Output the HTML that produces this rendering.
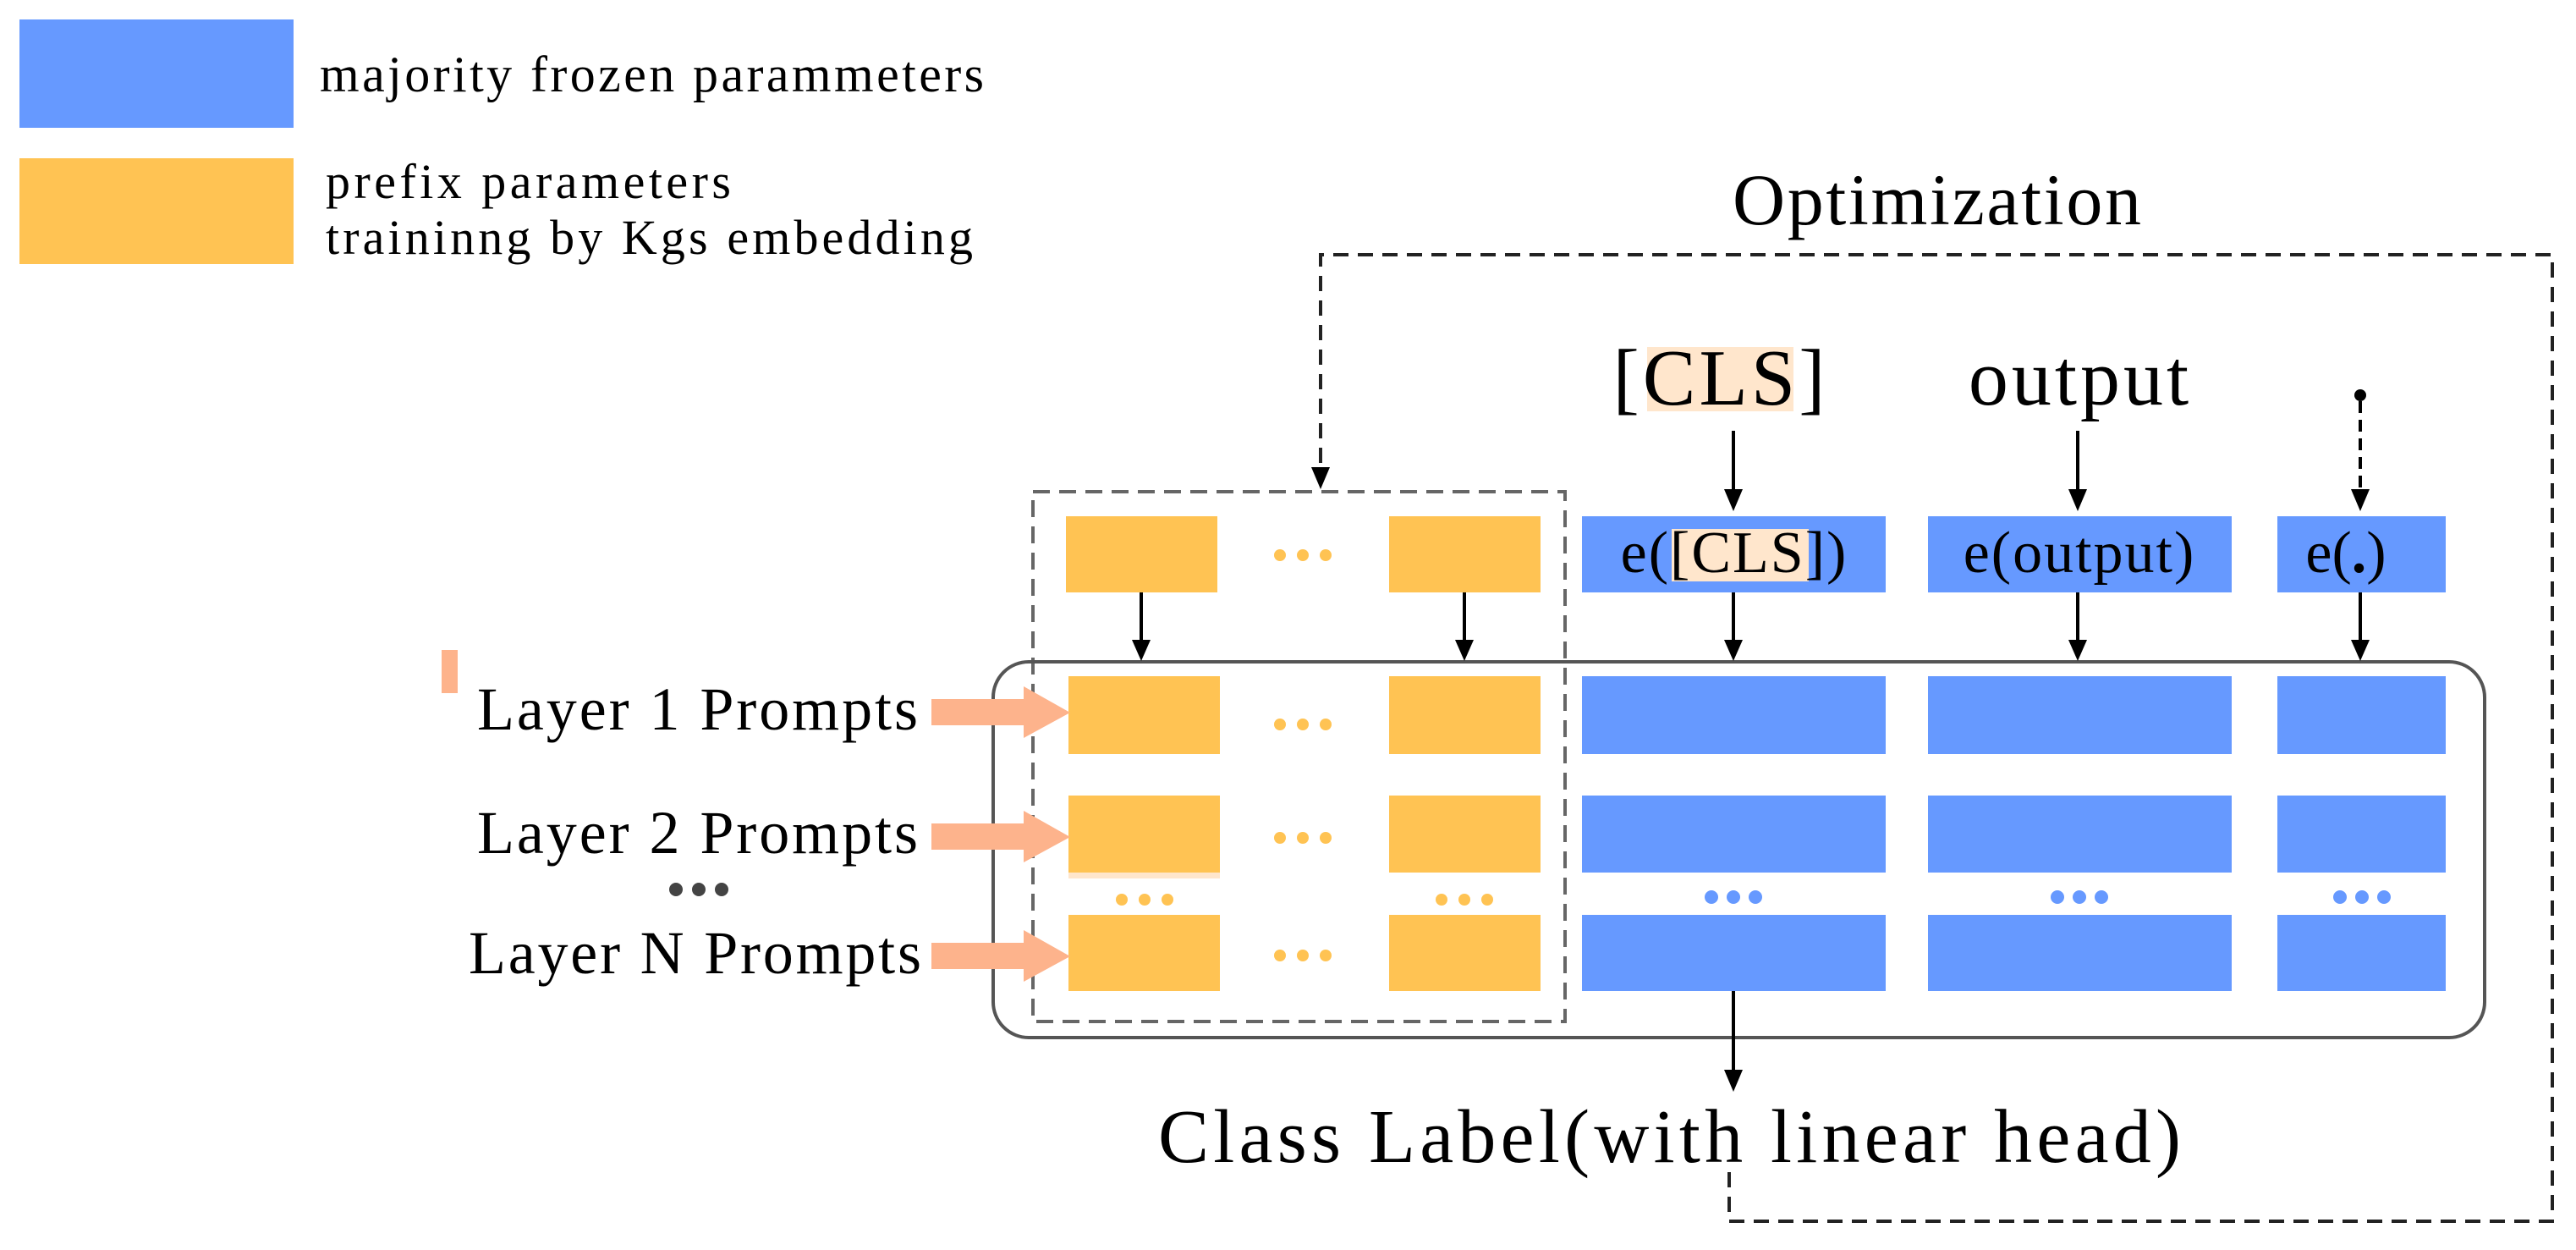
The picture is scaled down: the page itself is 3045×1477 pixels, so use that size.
<!DOCTYPE html>
<html><head><meta charset="utf-8"><style>
html,body{margin:0;padding:0;background:#fff;}
svg{display:block;}
text{font-family:"Liberation Serif",serif;fill:#000;}
</style></head><body>
<svg width="3045" height="1477" viewBox="0 0 3045 1477" xmlns="http://www.w3.org/2000/svg">
<!-- legend -->
<rect x="23" y="23" width="324" height="128" fill="#6699ff"/>
<text x="378" y="108" font-size="60" textLength="785" lengthAdjust="spacing">majority frozen parammeters</text>
<rect x="23" y="187" width="324" height="125" fill="#ffc353"/>
<text x="385" y="234" font-size="58" textLength="479" lengthAdjust="spacing">prefix parameters</text>
<text x="385" y="300" font-size="58" textLength="765" lengthAdjust="spacing">traininng by Kgs embedding</text>

<!-- Optimization -->
<text x="2048" y="265" font-size="86" textLength="483" lengthAdjust="spacing">Optimization</text>
<polyline points="2044,1385 2044,1443 3017,1443 3017,301 1561,301 1561,560" fill="none" stroke="#222" stroke-width="4" stroke-dasharray="18,11"/>
<polygon points="1550,552 1572,552 1561,578" fill="#000"/>

<!-- left dashed box -->
<rect x="1221" y="581" width="629" height="626" fill="none" stroke="#666" stroke-width="4" stroke-dasharray="20,11"/>

<!-- rounded main box -->
<rect x="1174" y="782" width="1763" height="444" rx="42" fill="none" stroke="#555" stroke-width="4"/>

<!-- top orange -->
<rect x="1260" y="610" width="179" height="90" fill="#ffc353"/>
<rect x="1642" y="610" width="179" height="90" fill="#ffc353"/>
<g fill="#ffc353"><circle cx="1513" cy="656" r="7"/><circle cx="1540" cy="656" r="7"/><circle cx="1567" cy="656" r="7"/></g>

<g stroke="#000" stroke-width="4">
<line x1="1349" y1="700" x2="1349" y2="760"/>
<line x1="1731" y1="700" x2="1731" y2="760"/>
<line x1="2049" y1="509" x2="2049" y2="580"/>
<line x1="2456" y1="509" x2="2456" y2="580"/>
<line x1="2790" y1="474" x2="2790" y2="580" stroke-dasharray="14,8"/>
<line x1="2049" y1="700" x2="2049" y2="760"/>
<line x1="2456" y1="700" x2="2456" y2="760"/>
<line x1="2790" y1="700" x2="2790" y2="760"/>
<line x1="2049" y1="1171" x2="2049" y2="1268"/>
</g>
<g fill="#000">
<polygon points="1338,756 1360,756 1349,781"/>
<polygon points="1720,756 1742,756 1731,781"/>
<polygon points="2038,578 2060,578 2049,604"/>
<polygon points="2445,578 2467,578 2456,604"/>
<polygon points="2779,578 2801,578 2790,604"/>
<polygon points="2038,756 2060,756 2049,781"/>
<polygon points="2445,756 2467,756 2456,781"/>
<polygon points="2779,756 2801,756 2790,781"/>
<polygon points="2038,1264 2060,1264 2049,1290"/>
<circle cx="2790" cy="467" r="7"/>
</g>

<!-- top labels -->
<rect x="1947" y="410" width="173" height="76" fill="#ffe6cc"/>
<text x="2034" y="478" font-size="94" text-anchor="middle" letter-spacing="4">[CLS]</text>
<text x="2459" y="478" font-size="94" text-anchor="middle" letter-spacing="4">output</text>

<!-- e boxes -->
<rect x="1870" y="610" width="359" height="90" fill="#6699ff"/>
<rect x="2279" y="610" width="359" height="90" fill="#6699ff"/>
<rect x="2692" y="610" width="199" height="90" fill="#6699ff"/>
<rect x="1976" y="625" width="162" height="62" fill="#ffe6cc"/>
<text x="2050" y="676" font-size="70" text-anchor="middle" letter-spacing="2">e([CLS])</text>
<text x="2458" y="676" font-size="70" text-anchor="middle" letter-spacing="2">e(output)</text>
<text x="2773" y="676" font-size="70" text-anchor="middle">e(<tspan font-weight="bold">.</tspan>)</text>

<!-- rows -->
<g fill="#ffc353">
<rect x="1263" y="799" width="179" height="92"/><rect x="1642" y="799" width="179" height="92"/>
<rect x="1263" y="940" width="179" height="91"/><rect x="1642" y="940" width="179" height="91"/>
<rect x="1263" y="1081" width="179" height="90"/><rect x="1642" y="1081" width="179" height="90"/>
<circle cx="1513" cy="856" r="7"/><circle cx="1540" cy="856" r="7"/><circle cx="1567" cy="856" r="7"/>
<circle cx="1513" cy="990" r="7"/><circle cx="1540" cy="990" r="7"/><circle cx="1567" cy="990" r="7"/>
<circle cx="1513" cy="1129" r="7"/><circle cx="1540" cy="1129" r="7"/><circle cx="1567" cy="1129" r="7"/>
<circle cx="1326" cy="1063" r="7"/><circle cx="1353" cy="1063" r="7"/><circle cx="1380" cy="1063" r="7"/>
<circle cx="1704" cy="1063" r="7"/><circle cx="1731" cy="1063" r="7"/><circle cx="1758" cy="1063" r="7"/>
</g>
<rect x="1263" y="1031" width="179" height="7" fill="#ffe6cc"/>
<g fill="#6699ff">
<rect x="1870" y="799" width="359" height="92"/><rect x="2279" y="799" width="359" height="92"/><rect x="2692" y="799" width="199" height="92"/>
<rect x="1870" y="940" width="359" height="91"/><rect x="2279" y="940" width="359" height="91"/><rect x="2692" y="940" width="199" height="91"/>
<rect x="1870" y="1081" width="359" height="90"/><rect x="2279" y="1081" width="359" height="90"/><rect x="2692" y="1081" width="199" height="90"/>
<circle cx="2023" cy="1060" r="8"/><circle cx="2049" cy="1060" r="8"/><circle cx="2075" cy="1060" r="8"/>
<circle cx="2432" cy="1060" r="8"/><circle cx="2458" cy="1060" r="8"/><circle cx="2484" cy="1060" r="8"/>
<circle cx="2766" cy="1060" r="8"/><circle cx="2792" cy="1060" r="8"/><circle cx="2818" cy="1060" r="8"/>
</g>

<!-- salmon arrows -->
<g fill="#fdb38c">
<rect x="522" y="768" width="19" height="51"/>
<polygon points="1101,826 1210,826 1210,811 1265,842 1210,872 1210,857 1101,857"/>
<polygon points="1101,973 1210,973 1210,958 1265,989 1210,1019 1210,1004 1101,1004"/>
<polygon points="1101,1114 1210,1114 1210,1099 1265,1130 1210,1160 1210,1145 1101,1145"/>
</g>
<text x="564" y="862" font-size="72" textLength="521" lengthAdjust="spacing">Layer 1 Prompts</text>
<text x="564" y="1008" font-size="72" textLength="521" lengthAdjust="spacing">Layer 2 Prompts</text>
<text x="554" y="1150" font-size="72" textLength="535" lengthAdjust="spacing">Layer N Prompts</text>
<g fill="#444"><circle cx="799" cy="1051" r="8"/><circle cx="826" cy="1051" r="8"/><circle cx="853" cy="1051" r="8"/></g>

<text x="1369" y="1373" font-size="90" textLength="1209" lengthAdjust="spacing">Class Label(with linear head)</text>
</svg>
</body></html>
